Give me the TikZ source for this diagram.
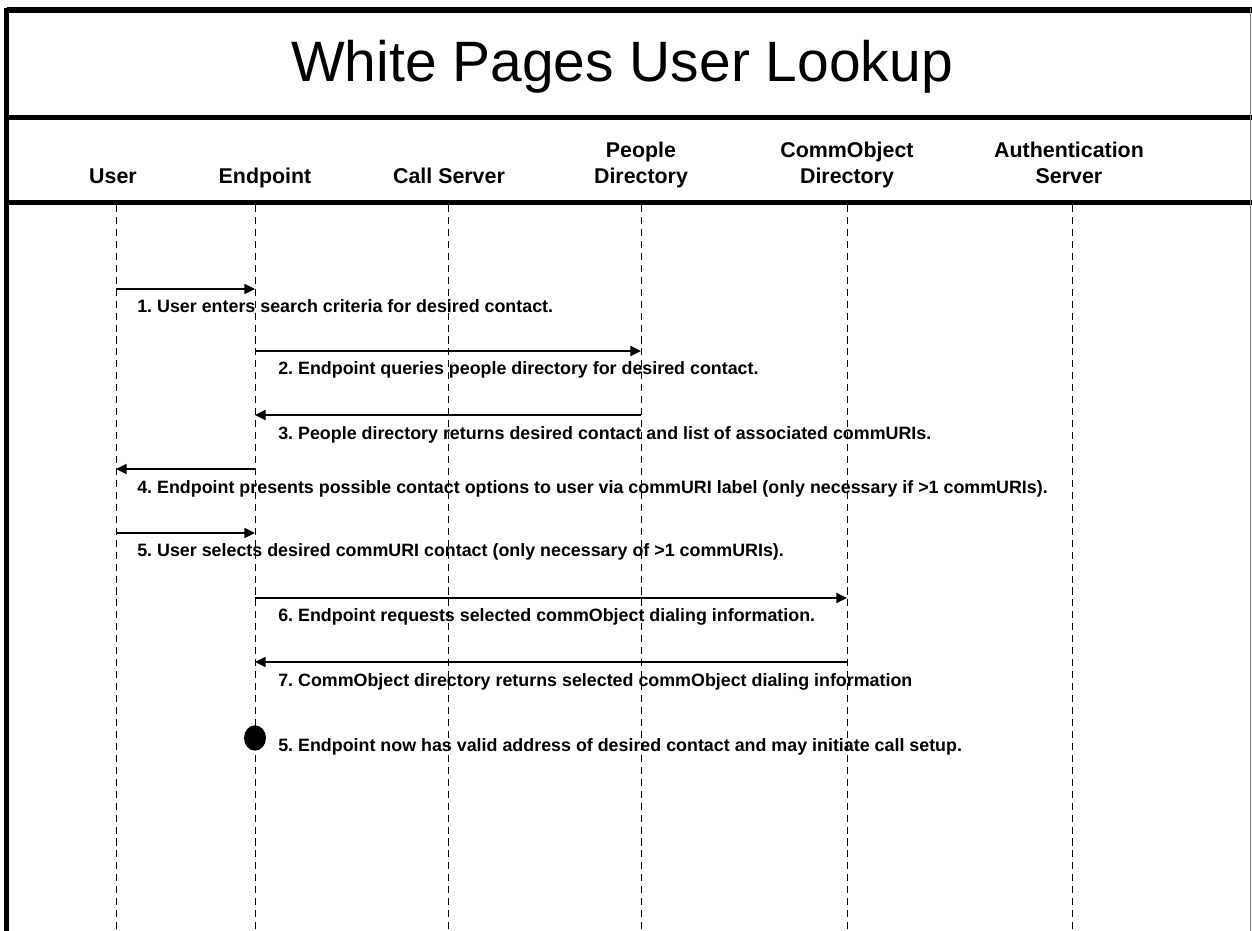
\documentclass[tikz,border=0pt]{standalone}
\usepackage{fontspec}
\setmainfont{Liberation Sans}
\usetikzlibrary{arrows.meta}
\frenchspacing
\begin{document}
\begin{tikzpicture}[x=0.025cm,y=-0.025cm,
  frame/.style={line width=3.6pt},
  life/.style={line width=0.7pt, dash pattern=on 5pt off 3.5pt},
  msg/.style={line width=1.5pt, -{Triangle[length=7.5pt,width=7pt]}},
  msgtext/.style={anchor=base west, inner sep=0pt, font=\bfseries\fontsize{12.7}{15}\selectfont},
  head/.style={align=center, anchor=base, inner sep=0pt, font=\bfseries\fontsize{15.2}{18.5}\selectfont}]
\useasboundingbox (0,0) rectangle (1252,931);
\draw[frame] (6.5,10) -- (1252,10);
\draw[frame] (6.5,8) -- (6.5,931);
\draw[frame] (6.5,117.5) -- (1252,117.5);
\draw[frame] (6.5,202.5) -- (1252,202.5);
\draw[gray, line width=0.8pt] (1250.5,8) -- (1250.5,931);
\node[anchor=base, inner sep=0pt, font=\fontsize{40.5}{48}\selectfont] (title) at (622,82) {White Pages User Lookup};
\node[head] (userhd) at (113,184) {User};
\node[head] (endpointhd) at (265,184) {Endpoint};
\node[head] (callhd) at (449,184) {Call Server};
\node[head] (peoplehd) at (641,184) {People\\Directory};
\node[head] (commhd) at (847,184) {CommObject\\Directory};
\node[head] (authhd) at (1069,184) {Authentication\\Server};
\coordinate (user) at (116,205);
\coordinate (endpoint) at (255,205);
\coordinate (call) at (448,205);
\coordinate (people) at (641,205);
\coordinate (comm) at (847,205);
\coordinate (auth) at (1072,205);
\coordinate (bottom) at (0,931);
\foreach \l in {user,endpoint,call,people,comm,auth}
  \draw[life] (\l) -- (\l |- bottom);
\coordinate (r1) at (0,289);
\coordinate (r2) at (0,351);
\coordinate (r3) at (0,415);
\coordinate (r4) at (0,469);
\coordinate (r5) at (0,533);
\coordinate (r6) at (0,598);
\coordinate (r7) at (0,662);
\coordinate (r8) at (0,738);
\draw[msg] (user |- r1) -- (endpoint |- r1);
\node[msgtext] (t1) at (137,313) {1. User enters search criteria for desired contact.};
\draw[msg] (endpoint |- r2) -- (people |- r2);
\node[msgtext] (t2) at (278,375) {2. Endpoint queries people directory for desired contact.};
\draw[msg] (people |- r3) -- (endpoint |- r3);
\node[msgtext] (t3) at (278,440) {3. People directory returns desired contact and list of associated commURIs.};
\draw[msg] (endpoint |- r4) -- (user |- r4);
\node[msgtext] (t4) at (137,494) {4. Endpoint presents possible contact options to user via commURI label (only necessary if >1 commURIs).};
\draw[msg] (user |- r5) -- (endpoint |- r5);
\node[msgtext] (t5) at (137,557) {5. User selects desired commURI contact (only necessary of >1 commURIs).};
\draw[msg] (endpoint |- r6) -- (comm |- r6);
\node[msgtext] (t6) at (278,622) {6. Endpoint requests selected commObject dialing information.};
\draw[msg] (comm |- r7) -- (endpoint |- r7);
\node[msgtext] (t7) at (278,687) {7. CommObject directory returns selected commObject dialing information};
\fill (endpoint |- r8) ellipse [x radius=7.8pt, y radius=9pt];
\node[msgtext] (t8) at (278,751) {5. Endpoint now has valid address of desired contact and may initiate call setup.};
\end{tikzpicture}
\end{document}
